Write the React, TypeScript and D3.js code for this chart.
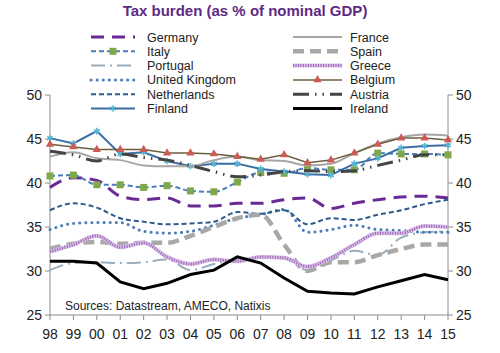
import React from 'react';
import * as d3 from 'd3';

const years = ['98', '99', '00', '01', '02', '03', '04', '05', '06', '07', '08', '09', '10', '11', '12', '13', '14', '15'];
const yTicks = [25, 30, 35, 40, 45, 50];

const germany = [39.5, 40.6, 40.3, 38.5, 38.1, 38.3, 37.4, 37.4, 37.7, 37.7, 38.1, 38.3, 37.1, 37.7, 38.1, 38.4, 38.5, 38.3];
const italy = [40.8, 40.9, 39.8, 39.8, 39.5, 39.7, 39.1, 39.0, 40.1, 41.2, 41.1, 41.7, 41.5, 41.5, 43.4, 43.3, 43.3, 43.2];
const portugal = [30.1, 30.9, 31.0, 30.9, 31.0, 31.3, 30.1, 30.8, 31.3, 31.5, 31.4, 30.1, 31.2, 32.3, 31.8, 33.8, 34.4, 34.5];
const uk = [34.7, 35.4, 35.5, 35.5, 34.5, 34.3, 34.5, 35.2, 36.0, 36.4, 37.0, 34.4, 34.7, 35.2, 34.7, 34.6, 34.4, 34.4];
const netherlands = [36.9, 37.7, 37.2, 36.0, 35.6, 35.3, 35.4, 35.6, 36.7, 36.5, 36.9, 35.3, 36.0, 35.8, 36.4, 36.9, 37.6, 38.1];
const finland = [45.1, 44.5, 45.9, 43.3, 43.5, 42.5, 41.9, 42.2, 42.2, 41.6, 41.3, 41.0, 40.9, 42.2, 42.8, 44.0, 44.2, 44.3];
const france = [43.0, 43.5, 42.8, 42.6, 42.0, 41.9, 41.9, 42.6, 43.0, 42.6, 42.5, 42.0, 42.2, 43.4, 44.5, 45.2, 45.5, 45.4];
const spain = [32.5, 33.1, 33.3, 33.1, 33.2, 33.2, 34.0, 35.0, 36.0, 36.4, 33.0, 30.0, 31.0, 31.0, 31.8, 32.5, 33.0, 33.0];
const greece = [32.2, 33.0, 34.0, 32.7, 33.2, 31.6, 30.8, 31.3, 31.1, 31.6, 31.5, 30.5, 31.5, 33.0, 34.3, 34.3, 35.1, 35.0];
const belgium = [44.4, 44.1, 43.8, 43.8, 43.8, 43.4, 43.4, 43.3, 43.0, 42.7, 43.2, 42.3, 42.6, 43.4, 44.4, 45.1, 45.1, 44.9];
const austria = [43.6, 43.2, 42.5, 43.3, 42.9, 42.6, 42.0, 41.3, 40.7, 40.9, 41.3, 41.4, 41.3, 41.4, 42.0, 42.6, 43.2, 43.2];
const ireland = [31.1, 31.1, 30.9, 28.75, 28.0, 28.6, 29.6, 30.1, 31.6, 30.9, 29.2, 27.7, 27.5, 27.4, 28.2, 28.9, 29.6, 29.0];

type Series = {
  name: string;
  values: number[];
  color: string;
  width: number;
  dash?: string;
  smooth: boolean;
  marker?: 'square' | 'triangle' | 'star';
  markerColor?: string;
  overlay?: string;
  cap?: string;
};

const series: Series[] = [
  { name: 'Germany', values: germany, color: '#6a2a96', width: 3, dash: '13 8', smooth: true },
  { name: 'Italy', values: italy, color: '#4a7ebb', width: 2, dash: '5 3', smooth: true, marker: 'square', markerColor: '#7fa84a' },
  { name: 'Portugal', values: portugal, color: '#98aebf', width: 2, dash: '14 5 2 5', smooth: true },
  { name: 'United Kingdom', values: uk, color: '#4a7ebb', width: 3, dash: '0.1 6', smooth: true, cap: 'round' },
  { name: 'Netherlands', values: netherlands, color: '#2f5a8c', width: 2, dash: '5 3', smooth: true },
  { name: 'Finland', values: finland, color: '#3a6ea5', width: 2, smooth: false, marker: 'star', markerColor: '#56b4d3' },
  { name: 'France', values: france, color: '#a6a6a6', width: 2, smooth: true },
  { name: 'Spain', values: spain, color: '#a8a8a8', width: 4.5, dash: '11 6', smooth: true },
  { name: 'Greece', values: greece, color: '#d9bfe6', width: 4, smooth: true, overlay: '#9a62b8' },
  { name: 'Belgium', values: belgium, color: '#6e5e3e', width: 1.5, smooth: false, marker: 'triangle', markerColor: '#cc5a55' },
  { name: 'Austria', values: austria, color: '#444444', width: 3, dash: '16 6 1.5 6 1.5 6', smooth: true },
  { name: 'Ireland', values: ireland, color: '#000000', width: 3, smooth: false },
];

const x = d3.scalePoint<string>().domain(years).range([50, 448]);
const y = d3.scaleLinear().domain([25, 50]).range([315, 95]);

const Marker = ({ kind, cx, cy, color }: { kind: string; cx: number; cy: number; color: string }) => {
  if (kind === 'square') return <rect x={cx - 3.5} y={cy - 3.5} width={7} height={7} fill={color} />;
  if (kind === 'triangle') return <path d={d3.symbol(d3.symbolTriangle, 30)() || ''} transform={`translate(${cx},${cy})`} fill={color} />;
  return <path d={d3.symbol(d3.symbolAsterisk, 30)() || ''} transform={`translate(${cx},${cy})`} stroke={color} strokeWidth={1.5} fill="none" />;
};

const SeriesLine = ({ s, pts }: { s: Series; pts: [number, number][] }) => {
  const line = d3.line().curve(s.smooth ? d3.curveMonotoneX : d3.curveLinear);
  const d = line(pts) || '';
  return (
    <g>
      <path d={d} fill="none" stroke={s.color} strokeWidth={s.width} strokeDasharray={s.dash} strokeLinecap={s.cap as any || 'butt'} />
      {s.overlay && <path d={d} fill="none" stroke={s.overlay} strokeWidth={s.width - 1} strokeDasharray="1 1.5" />}
      {s.marker && pts.map((p, i) => <Marker key={i} kind={s.marker!} cx={p[0]} cy={p[1]} color={s.markerColor!} />)}
    </g>
  );
};

const App = () => {
  const axisColor = '#8c8c8c';
  const font = 'Liberation Sans, Arial, sans-serif';
  return (
    <svg width={500} height={353} style={{ position: 'absolute', left: 0, top: 0, fontFamily: font }}>
      <rect width={500} height={353} fill="#fff" />
      <text x={245} y={16} textAnchor="middle" fontSize={15} fontWeight="bold" fill="#5f2a84">Tax burden (as % of nominal GDP)</text>

      {series.map((s, i) => {
        const col = i < 6 ? 0 : 1;
        const row = i % 6;
        const x0 = col === 0 ? 91 : 293;
        const x1 = col === 0 ? 135 : 342;
        const ly = 37 + row * 14.3;
        const pts: [number, number][] = [[x0, ly], [x1, ly]];
        return (
          <g key={s.name}>
            <path d={`M${x0},${ly}L${x1},${ly}`} stroke={s.color} strokeWidth={s.width} strokeDasharray={s.dash} strokeLinecap={s.cap as any || 'butt'} fill="none" />
            {s.overlay && <path d={`M${x0},${ly}L${x1},${ly}`} stroke={s.overlay} strokeWidth={s.width - 1} strokeDasharray="1 1.5" fill="none" />}
            {s.marker && <Marker kind={s.marker} cx={(x0 + x1) / 2} cy={ly} color={s.markerColor!} />}
            <text x={col === 0 ? 147 : 350} y={ly + 4.5} fontSize={12.5} fill="#222">{s.name}</text>
            {pts && null}
          </g>
        );
      })}

      {/* axes */}
      <line x1={50} x2={50} y1={95} y2={315} stroke={axisColor} />
      <line x1={448} x2={448} y1={95} y2={315} stroke={axisColor} />
      <line x1={50} x2={448} y1={315} y2={315} stroke={axisColor} />
      {yTicks.map(t => (
        <g key={t}>
          <line x1={45} x2={50} y1={y(t)} y2={y(t)} stroke={axisColor} />
          <line x1={448} x2={453} y1={y(t)} y2={y(t)} stroke={axisColor} />
          <text x={42} y={y(t) + 5} textAnchor="end" fontSize={14} fill="#222">{t}</text>
          <text x={456} y={y(t) + 5} textAnchor="start" fontSize={14} fill="#222">{t}</text>
        </g>
      ))}
      {years.map(yr => (
        <g key={yr}>
          <line x1={x(yr)} x2={x(yr)} y1={315} y2={320} stroke={axisColor} />
          <text x={x(yr)} y={339} textAnchor="middle" fontSize={14} fill="#222">{yr}</text>
        </g>
      ))}

      {series.map(s => (
        <SeriesLine key={s.name} s={s} pts={s.values.map((v, i) => [x(years[i])!, y(v)] as [number, number])} />
      ))}

      <text x={65} y={310} fontSize={12} fill="#222">Sources: Datastream, AMECO, Natixis</text>
    </svg>
  );
};

export default App;
